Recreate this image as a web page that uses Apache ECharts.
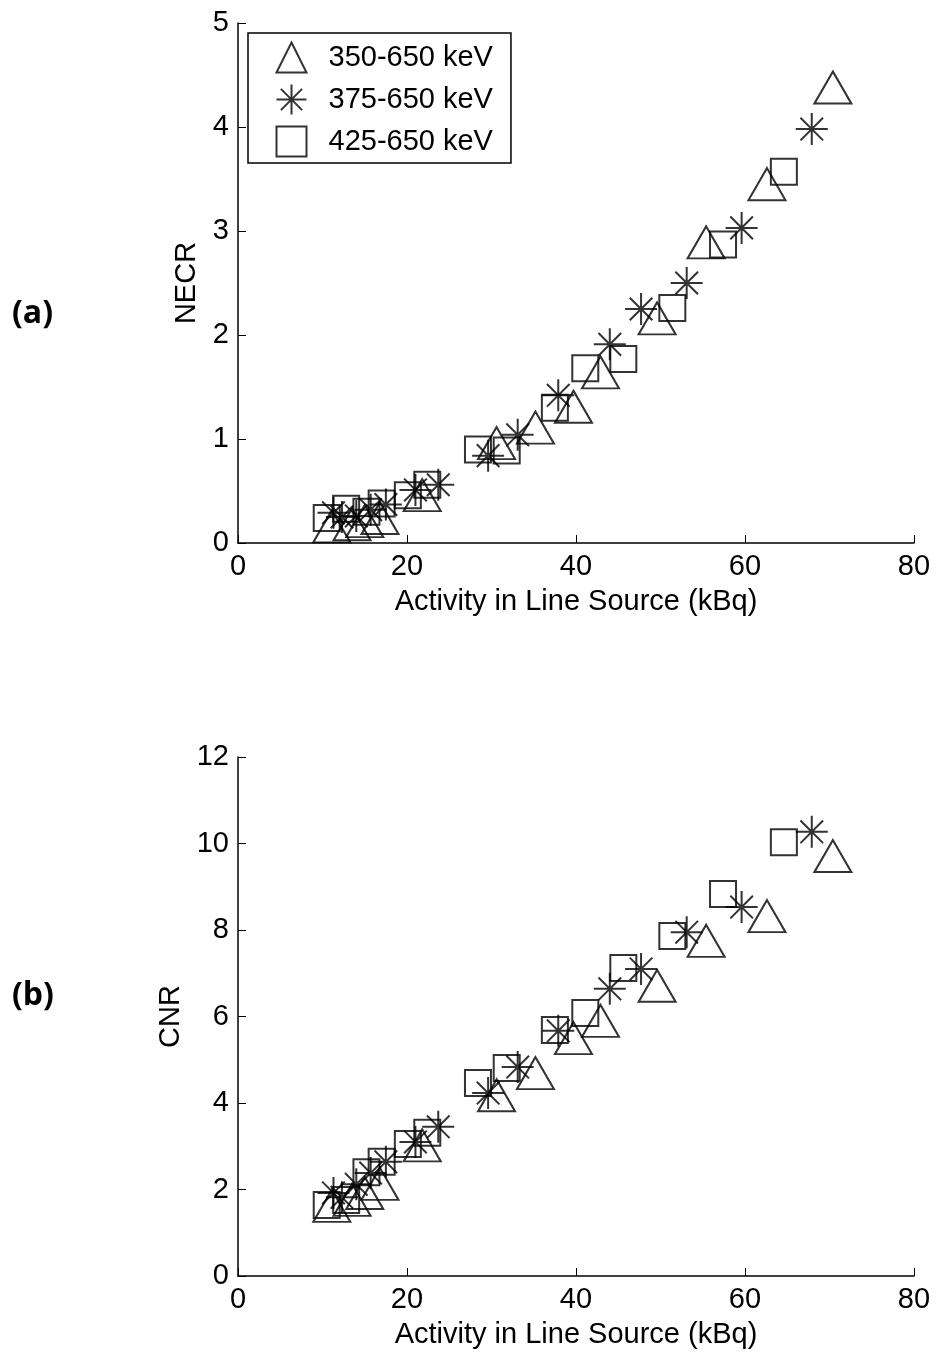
<!DOCTYPE html>
<html>
<head>
<meta charset="utf-8">
<script src="https://cdn.jsdelivr.net/npm/echarts@6/dist/echarts.min.js"></script>
<style>
html, body { margin: 0; padding: 0; background: #fff; }
#chart { width: 936px; height: 1357px; }
</style>
</head>
<body>
<div id="chart"></div>
<script>
var seriesNames = ['350-650 keV', '375-650 keV', '425-650 keV'];
var xTicks = [0, 20, 40, 60, 80];

// activity (kBq) for each energy window
var actTri = [11.1, 13.5, 15.0, 16.8, 21.8, 30.6, 35.2, 39.7, 42.9, 49.6, 55.4, 62.6, 70.4];
var actStar = [11.3, 12.3, 14.0, 15.7, 17.5, 21.0, 23.7, 29.6, 33.1, 37.9, 44.0, 47.7, 53.1, 59.6, 67.9];
var actSq = [10.5, 12.8, 15.2, 17.0, 20.1, 22.4, 28.4, 31.8, 37.5, 41.1, 45.6, 51.4, 57.4, 64.6];

// (a) NECR
var necrTri = [0.16, 0.18, 0.21, 0.24, 0.46, 0.96, 1.11, 1.31, 1.64, 2.16, 2.89, 3.45, 4.38];
var necrStar = [0.29, 0.25, 0.26, 0.32, 0.37, 0.51, 0.56, 0.84, 1.04, 1.42, 1.91, 2.25, 2.50, 3.03, 3.98];
var necrSq = [0.24, 0.33, 0.30, 0.38, 0.46, 0.56, 0.90, 0.89, 1.30, 1.68, 1.77, 2.26, 2.87, 3.57];

// (b) CNR
var cnrTri = [1.62, 1.76, 1.92, 2.13, 3.02, 4.18, 4.69, 5.50, 5.90, 6.71, 7.75, 8.32, 9.71];
var cnrStar = [1.92, 1.82, 2.12, 2.38, 2.64, 3.10, 3.45, 4.23, 4.83, 5.67, 6.64, 7.10, 7.95, 8.53, 10.27];
var cnrSq = [1.64, 1.76, 2.40, 2.64, 3.05, 3.31, 4.46, 4.81, 5.69, 6.08, 7.12, 7.86, 8.83, 10.03];

function pairs(xs, ys) {
  return xs.map(function (x, i) { return [x, ys[i]]; });
}

var triPath = 'path://M0,-10L10,10L-10,10Z';
var starPath = 'path://M0,-10L0,10M-10,0L10,0M-7.07,-7.07L7.07,7.07M-7.07,7.07L7.07,-7.07';
var sqPath = 'path://M-10,-10L10,-10L10,10L-10,10Z';

var markerStyle = { color: 'none', borderColor: '#000', borderWidth: 2 };
var font = 'Liberation Sans, Arial, sans-serif';

function xAxisFor(gi) {
  return {
    type: 'value', gridIndex: gi, min: 0, max: 80, interval: 20,
    name: 'Activity in Line Source (kBq)', nameLocation: 'middle', nameGap: 44,
    nameTextStyle: { color: '#000', fontSize: 29, fontFamily: font },
    axisLine: { lineStyle: { color: '#000', width: 1.5 } },
    axisTick: { inside: true, length: 8, lineStyle: { color: '#000' } },
    axisLabel: { color: '#000', fontSize: 29, fontFamily: font, margin: 9 },
    splitLine: { show: false }
  };
}

function yAxisFor(gi, name, max, interval) {
  return {
    type: 'value', gridIndex: gi, min: 0, max: max, interval: interval,
    name: name, nameLocation: 'middle', nameGap: 36,
    nameTextStyle: { color: '#000', fontSize: 29, fontFamily: font },
    axisLine: { show: true, lineStyle: { color: '#000', width: 1.5 } },
    axisTick: { show: true, inside: true, length: 8, lineStyle: { color: '#000' } },
    axisLabel: { color: '#000', fontSize: 29, fontFamily: font, margin: 9 },
    splitLine: { show: false }
  };
}

function scatter(name, sym, size, xi, data) {
  return {
    name: name, type: 'scatter', xAxisIndex: xi, yAxisIndex: xi,
    symbol: sym, symbolSize: size, itemStyle: markerStyle,
    data: data, emphasis: { disabled: true }, z: 3
  };
}

var chart = echarts.init(document.getElementById('chart'), null, { renderer: 'canvas' });
chart.setOption({
  animation: false,
  backgroundColor: '#fff',
  grid: [
    { left: 238, right: 22, top: 23, height: 520 },
    { left: 238, right: 22, top: 757, height: 519 }
  ],
  xAxis: [xAxisFor(0), xAxisFor(1)],
  yAxis: [yAxisFor(0, 'NECR', 5, 1), yAxisFor(1, 'CNR', 12, 2)],
  legend: {
    left: 248, top: 33, orient: 'vertical',
    data: seriesNames,
    borderColor: '#000', borderWidth: 1.5, borderRadius: 0,
    padding: [7, 18, 4, 26], itemGap: 7, itemWidth: 36, itemHeight: 30,
    textStyle: { color: '#000', fontSize: 29, lineHeight: 30, fontFamily: font, padding: [0, 0, 0, 14] }
  },
  series: [
    scatter(seriesNames[0], triPath, [37, 32], 0, pairs(actTri, necrTri)),
    scatter(seriesNames[1], starPath, [32, 32], 0, pairs(actStar, necrStar)),
    scatter(seriesNames[2], sqPath, [26, 26], 0, pairs(actSq, necrSq)),
    scatter(seriesNames[0], triPath, [37, 32], 1, pairs(actTri, cnrTri)),
    scatter(seriesNames[1], starPath, [32, 32], 1, pairs(actStar, cnrStar)),
    scatter(seriesNames[2], sqPath, [26, 26], 1, pairs(actSq, cnrSq))
  ],
  graphic: [
    { type: 'text', left: 12, top: 298, style: { text: '(a)', fontSize: 32, fontWeight: 'bold', fontFamily: 'Open Sans, sans-serif', fill: '#000' } },
    { type: 'text', left: 12, top: 980, style: { text: '(b)', fontSize: 32, fontWeight: 'bold', fontFamily: 'Open Sans, sans-serif', fill: '#000' } }
  ]
});
</script>
</body>
</html>
